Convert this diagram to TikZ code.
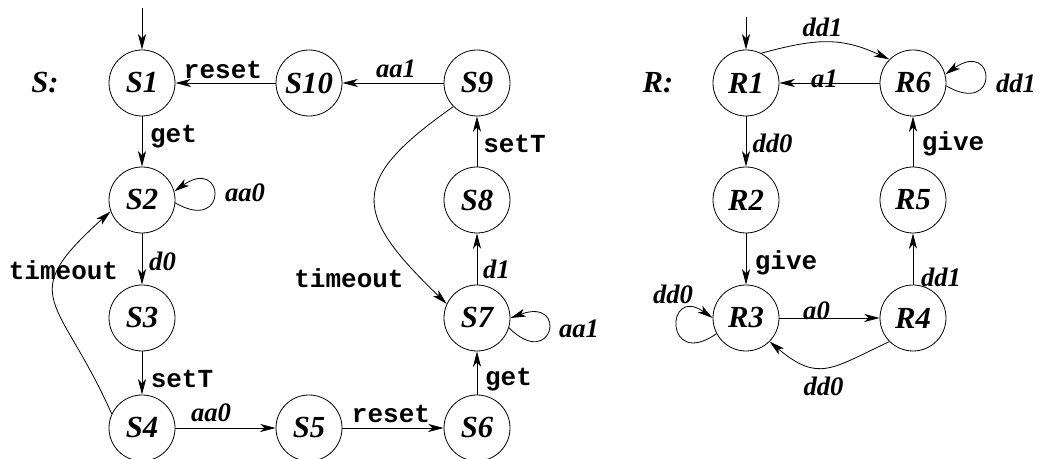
\documentclass[tikz,border=0pt]{standalone}
\usepackage{fontspec}
\setmainfont{Liberation Serif}
\setmonofont{Liberation Mono}
\usetikzlibrary{arrows.meta}
\begin{document}
\begin{tikzpicture}[x=0.75pt,y=0.75pt,
  state/.style={circle,draw,line width=0.6pt,minimum size=49.5pt,inner sep=0pt,font=\fontsize{23}{23}\selectfont\bfseries\itshape},
  arr/.style={line width=0.6pt,-{Stealth[length=11.5pt,width=6pt,inset=3pt]}},
  lab/.style={font=\fontsize{20}{20}\selectfont\bfseries\itshape,inner sep=0pt},
  code/.style={font=\fontsize{19.5}{19.5}\selectfont\ttfamily\bfseries,inner sep=0pt},
  ttl/.style={font=\fontsize{23}{23}\selectfont\bfseries\itshape,inner sep=0pt}]
\useasboundingbox (0,0) rectangle (1039,459);
% S machine
\node[state] (S1) at (142,376) {S1};
\node[state] (S10) at (309,376) {S10};
\node[state] (S9) at (477,376) {S9};
\node[state] (S2) at (142,259) {S2};
\node[state] (S8) at (477,259) {S8};
\node[state] (S3) at (142,141) {S3};
\node[state] (S7) at (477,141) {S7};
\node[state] (S4) at (142,31) {S4};
\node[state] (S5) at (309,31) {S5};
\node[state] (S6) at (477,31) {S6};
% R machine
\node[state] (R1) at (746,376) {R1};
\node[state] (R6) at (913,376) {R6};
\node[state] (R2) at (746,259) {R2};
\node[state] (R5) at (913,259) {R5};
\node[state] (R3) at (746,141) {R3};
\node[state] (R4) at (913,141) {R4};
% titles
\node[ttl] (lS) at (45,376) {S:};
\node[ttl] (lR) at (658,376) {R:};
% initial arrows
\coordinate (iS) at (142,451);
\coordinate (iR) at (746,442);
\draw[arr] (iS) -- (S1);
\draw[arr] (iR) -- (R1);
% S edges
\draw[arr] (S10) -- (S1);
\draw[arr] (S9) -- (S10);
\draw[arr] (S1) -- (S2);
\draw[arr] (S2) -- (S3);
\draw[arr] (S3) -- (S4);
\draw[arr] (S4) -- (S5);
\draw[arr] (S5) -- (S6);
\draw[arr] (S6) -- (S7);
\draw[arr] (S7) -- (S8);
\draw[arr] (S8) -- (S9);
\draw[arr] (S4.155) .. controls +(114:130) and +(222:130) .. (S2.200);
\draw[arr] (S9.225) .. controls +(215:130) and +(136:130) .. (S7.155);
\draw[arr] (S2.-5) .. controls +(-30:62) and +(35:62) .. (S2.15);
\draw[arr] (S7.-17) .. controls +(-45:62) and +(20:62) .. (S7.0);
% R edges
\draw[arr] (R6) -- (R1);
\draw[arr] (R1) -- (R2);
\draw[arr] (R2) -- (R3);
\draw[arr] (R3) -- (R4);
\draw[arr] (R4) -- (R5);
\draw[arr] (R5) -- (R6);
\draw[arr] (R1.63) .. controls +(15:55) and +(155:55) .. (R6.135);
\draw[arr] (R4.225) .. controls +(205:64) and +(-40:64) .. (R3.-45);
\draw[arr] (R3.208) .. controls +(215:64) and +(145:58) .. (R3.180);
\draw[arr] (R6.-5) .. controls +(-30:62) and +(35:62) .. (R6.15);
% S labels
\node[code] (l1) at (223,389) {reset};
\node[lab] (l2) at (396,390) {aa1};
\node[code] (l3) at (173.5,322) {get};
\node[lab] (l4) at (245,266) {aa0};
\node[lab] (l5) at (162.5,198) {d0};
\node[code] (l6) at (63.5,189) {timeout};
\node[code] (l7) at (182,80.5) {setT};
\node[lab] (l8) at (211,46.5) {aa0};
\node[code] (l9) at (391,45.5) {reset};
\node[code] (l10) at (508.5,79) {get};
\node[lab] (l11) at (579,130) {aa1};
\node[lab] (l12) at (496.5,189.5) {d1};
\node[code] (l13) at (349,180.5) {timeout};
\node[code,anchor=west] (l14) at (483,315.5) {setT};
% R labels
\node[lab] (m1) at (822.5,431.5) {dd1};
\node[lab] (m2) at (824.5,380.5) {a1};
\node[lab] (m3) at (772.5,315.5) {dd0};
\node[code] (m4) at (953,315) {give};
\node[code] (m5) at (786,196) {give};
\node[lab] (m6) at (673,165) {dd0};
\node[lab] (m7) at (816.5,148) {a0};
\node[lab] (m8) at (941,181.5) {dd1};
\node[lab] (m9) at (823.5,73) {dd0};
\node[lab] (m10) at (1016,376) {dd1};
\end{tikzpicture}
\end{document}
